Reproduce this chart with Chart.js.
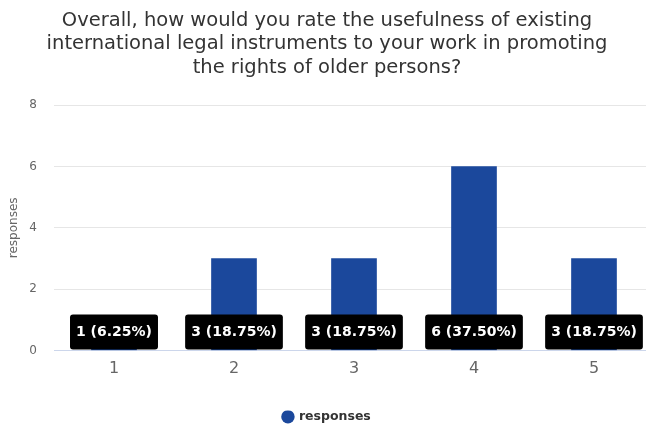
<!DOCTYPE html>
<html>
<head>
<meta charset="utf-8">
<script src="https://cdn.jsdelivr.net/npm/chart.js@4"></script>
<style>
    html, body { margin: 0; padding: 0; overflow: hidden; background: #fff; }
    #chart-wrapper { width: 660px; height: 427px; }
</style>
</head>
<body>
<div id="chart-wrapper"><canvas id="ratingChart"></canvas></div>
<script>
const categories = ['1', '2', '3', '4', '5'];
const responses = [1, 3, 3, 6, 3];
const yTicks = [0, 2, 4, 6, 8];
const titleLines = [
    'Overall, how would you rate the usefulness of existing',
    'international legal instruments to your work in promoting',
    'the rights of older persons?'
];

const total = responses.reduce((a, b) => a + b, 0);

// black value boxes sitting on the zero line
const valueLabels = {
    id: 'valueLabels',
    afterDatasetsDraw(chart) {
        const ctx = chart.ctx;
        const base = chart.scales.y.getPixelForValue(0);
        const meta = chart.getDatasetMeta(0);
        ctx.save();
        ctx.font = 'bold 14px "DejaVu Sans"';
        ctx.textAlign = 'center';
        ctx.textBaseline = 'middle';
        meta.data.forEach((bar, i) => {
            const v = responses[i];
            const text = v + ' (' + (v / total * 100).toFixed(2) + '%)';
            const w = ctx.measureText(text).width + 12;
            const h = 35;
            const x = bar.x - w / 2;
            const y = base - 1 - h;
            ctx.fillStyle = '#000';
            ctx.beginPath();
            ctx.roundRect(x, y, w, h, 3);
            ctx.fill();
            ctx.fillStyle = '#fff';
            ctx.fillText(text, bar.x, y + h / 2 + 0.5);
        });
        ctx.restore();
    }
};

Chart.defaults.font.family = '"DejaVu Sans"';
Chart.defaults.color = '#666666';

new Chart(document.getElementById('ratingChart').getContext('2d'), {
    type: 'bar',
    data: {
        labels: categories,
        datasets: [{
            label: 'responses',
            data: responses,
            backgroundColor: '#1b489c',
            borderWidth: 0,
            barThickness: 45
        }]
    },
    options: {
        responsive: true,
        maintainAspectRatio: false,
        animation: false,
        events: [],
        layout: { padding: { left: 0, right: 6, top: 0, bottom: -6 } },
        scales: {
            x: {
                grid: { display: false },
                border: { display: false },
                ticks: { color: '#666666', font: { size: 16 }, padding: 1 },
                afterFit: s => { s.height = 60; }
            },
            y: {
                min: 0,
                max: 8,
                afterBuildTicks: s => { s.ticks = yTicks.map(v => ({ value: v })); },
                grid: {
                    drawTicks: false,
                    color: c => (c.tick && c.tick.value === 0 ? '#ccd6eb' : '#e6e6e6')
                },
                border: { display: false },
                ticks: { color: '#666666', font: { size: 12 }, padding: 17 },
                title: {
                    display: true,
                    text: 'responses',
                    color: '#666666',
                    font: { size: 12 },
                    padding: { top: 7, bottom: 0 }
                },
                afterFit: s => { s.width = 54; }
            }
        },
        plugins: {
            title: {
                display: true,
                text: titleLines,
                color: '#333333',
                font: { size: 19.5, weight: 'normal', lineHeight: 1.2 },
                padding: { top: 9, bottom: 26 }
            },
            legend: {
                display: true,
                position: 'bottom',
                labels: {
                    usePointStyle: true,
                    pointStyle: 'circle',
                    boxWidth: 9.5,
                    boxHeight: 9.5,
                    padding: 0,
                    color: '#333333',
                    font: { size: 12.5, weight: 'bold' }
                }
            },
            tooltip: { enabled: false }
        }
    },
    plugins: [valueLabels]
});
</script>
</body>
</html>
